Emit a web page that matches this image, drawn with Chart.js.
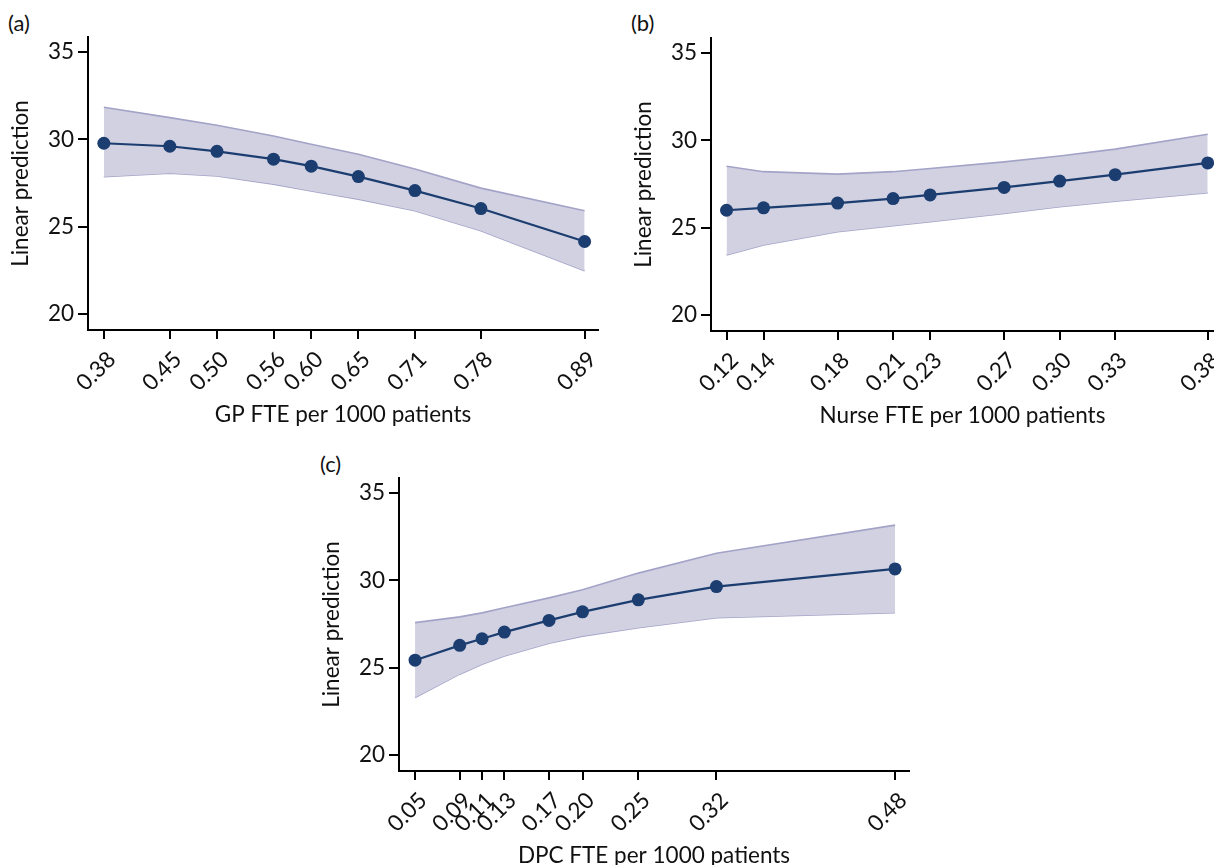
<!DOCTYPE html>
<html>
<head>
<meta charset="utf-8">
<script src="https://cdn.jsdelivr.net/npm/chart.js@4/dist/chart.umd.min.js"></script>
<style>
  html, body { margin: 0; padding: 0; background: #fff; }
  body { width: 1214px; height: 865px; position: relative; overflow: hidden; font-family: Lato, sans-serif; }
  .panel { position: absolute; }
  .tag { position: absolute; font-size: 22px; line-height: 24px; color: #111; }
</style>
</head>
<body>
<div class="tag" style="left:8px;top:11px">(a)</div>
<div class="tag" style="left:631px;top:11px">(b)</div>
<div class="tag" style="left:320px;top:452px">(c)</div>

<div class="panel" style="left:0;top:0;width:607px;height:430px"><canvas id="chartA"></canvas></div>
<div class="panel" style="left:623px;top:1px;width:620px;height:430px"><canvas id="chartB"></canvas></div>
<div class="panel" style="left:311px;top:441px;width:610px;height:430px"><canvas id="chartC"></canvas></div>

<script>
// y axis ticks shared by all panels
const yTicks = [20, 25, 30, 35]

// (a) GP FTE
const gpX = [0.38, 0.45, 0.50, 0.56, 0.60, 0.65, 0.71, 0.78, 0.89]
const gpFit = [29.77, 29.6, 29.31, 28.86, 28.46, 27.86, 27.06, 26.03, 24.14]
const gpUpper = [31.83, 31.24, 30.8, 30.19, 29.71, 29.14, 28.3, 27.2, 25.9]
const gpLower = [27.85, 28.05, 27.9, 27.43, 27.04, 26.57, 25.9, 24.76, 22.47]

// (b) Nurse FTE
const nurseX = [0.12, 0.14, 0.18, 0.21, 0.23, 0.27, 0.30, 0.33, 0.38]
const nurseFit = [25.99, 26.13, 26.4, 26.66, 26.87, 27.3, 27.66, 28.03, 28.7]
const nurseUpper = [28.51, 28.2, 28.06, 28.2, 28.38, 28.76, 29.1, 29.49, 30.34]
const nurseLower = [23.43, 24.0, 24.76, 25.1, 25.33, 25.8, 26.19, 26.51, 26.99]

// (c) DPC FTE
const dpcX = [0.05, 0.09, 0.11, 0.13, 0.17, 0.20, 0.25, 0.32, 0.48]
const dpcFit = [25.42, 26.27, 26.65, 27.03, 27.7, 28.19, 28.88, 29.64, 30.65]
const dpcUpper = [27.57, 27.9, 28.13, 28.42, 28.99, 29.46, 30.41, 31.55, 33.16]
const dpcLower = [23.28, 24.62, 25.19, 25.66, 26.39, 26.8, 27.28, 27.85, 28.14]

const navy = '#1b3d70'
const bandFill = '#d1d1e1'
const bandLine = '#a3a3c8'
const font = { family: 'Lato', size: 22.5 }

function pts(xs, ys) {
  return xs.map((x, i) => ({ x: x, y: ys[i] }))
}

function makeChart(id, xs, fit, upper, lower, xTitle, xMin, xMax, padRight) {
  new Chart(document.getElementById(id), {
    type: 'line',
    data: {
      datasets: [
        {
          data: pts(xs, fit),
          borderColor: navy,
          borderWidth: 2.2,
          pointRadius: 6.5,
          pointBackgroundColor: navy,
          pointBorderWidth: 0,
          fill: false,
          clip: false,
        },
        {
          data: pts(xs, upper),
          borderColor: bandLine,
          borderWidth: 1.6,
          backgroundColor: bandFill,
          pointRadius: 0,
          fill: '+1',
          clip: false,
        },
        {
          data: pts(xs, lower),
          borderColor: bandLine,
          borderWidth: 1.6,
          pointRadius: 0,
          fill: false,
          clip: false,
        },
      ],
    },
    options: {
      responsive: true,
      maintainAspectRatio: false,
      animation: false,
      layout: { padding: { top: 37, right: padRight, bottom: 0, left: 0 } },
      plugins: { legend: { display: false }, tooltip: { enabled: false } },
      scales: {
        x: {
          type: 'linear',
          min: xMin,
          max: xMax,
          grid: { drawOnChartArea: false, drawTicks: true, tickLength: 9, color: '#000', lineWidth: 2 },
          border: { display: true, color: '#000', width: 2 },
          ticks: {
            autoSkip: false,
            minRotation: 45,
            maxRotation: 45,
            padding: 7,
            labelOffset: 8,
            color: '#111',
            font: font,
            callback: (v) => v.toFixed(2),
          },
          afterBuildTicks: (s) => { s.ticks = xs.map((v) => ({ value: v })) },
          afterFit: (s) => { s.height = 100; s.paddingLeft = 0; s.paddingRight = 0 },
          title: { display: true, text: xTitle, color: '#111', font: font, padding: { top: 4, bottom: 2 } },
        },
        y: {
          min: 19.07,
          max: 35.86,
          grid: { drawOnChartArea: false, drawTicks: true, tickLength: 10, color: '#000', lineWidth: 2 },
          border: { display: true, color: '#000', width: 2 },
          ticks: { padding: 4, color: '#111', font: font },
          afterBuildTicks: (s) => { s.ticks = yTicks.map((v) => ({ value: v })) },
          afterFit: (s) => { s.width = 88 },
          title: { display: true, text: 'Linear prediction', color: '#111', font: font, padding: { top: 7, bottom: 4 } },
        },
      },
    },
  })
}

makeChart('chartA', gpX, gpFit, gpUpper, gpLower, 'GP FTE per 1000 patients', 0.3632, 0.9042, 9)
makeChart('chartB', nurseX, nurseFit, nurseUpper, nurseLower, 'Nurse FTE per 1000 patients', 0.1116, 0.3834, 29)
makeChart('chartC', dpcX, dpcFit, dpcUpper, dpcLower, 'DPC FTE per 1000 patients', 0.0356, 0.4925, 12)
</script>
</body>
</html>
